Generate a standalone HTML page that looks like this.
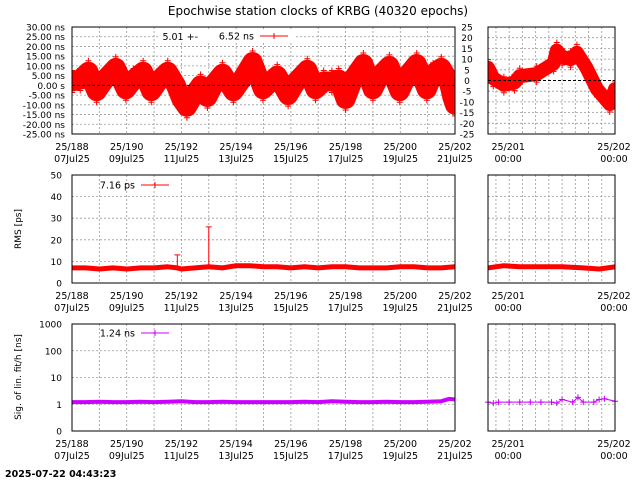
<!DOCTYPE html>
<html><head><meta charset="utf-8"><style>
body{margin:0;background:#fff;}
svg{display:block;font-family:"DejaVu Sans","Liberation Sans",sans-serif;}
</style></head><body>
<svg id="c" width="640" height="480" viewBox="0 0 640 480" xmlns="http://www.w3.org/2000/svg">
<rect width="640" height="480" fill="#fff"/>
<text x="318" y="15" font-size="12" text-anchor="middle">Epochwise station clocks of KRBG (40320 epochs)</text>
<text x="5" y="477" font-size="9.5" font-weight="bold">2025-07-22 04:43:23</text>
<text transform="translate(21,229) rotate(-90)" font-size="9" text-anchor="middle">RMS [ps]</text>
<text transform="translate(21,377) rotate(-90)" font-size="9" text-anchor="middle">Sig. of lin. fit/h [ns]</text>
</svg>
<script>
// ---- data ----
const clockDays=[188.0,188.3,188.6,188.9,189.2,189.6,189.97,190.25,190.6,190.9,191.2,191.5,191.8,192.0,192.2,192.45,192.7,192.95,193.2,193.5,193.9,194.25,194.6,194.98,195.2,195.5,195.9,196.2,196.6,196.9,197.2,197.5,197.75,198.0,198.3,198.65,199.0,199.25,199.6,199.98,200.25,200.6,200.97,201.2,201.5,201.75,201.9,202.0];
const clockVals=[2,3,7,-3,3,9,-2,3,7,-3,3,7,0,-7,-11,-5,0,-6,1,6,-3,4,12,-2,1,5,-5,2,8,-2,2,2,3,-7,4,11,-2,5,10,-3,5,11,-2,6,9,3,-6,-10];
const zoomDays=[200.8,200.85,200.95,201.05,201.1,201.26,201.42,201.45,201.5,201.58,201.64,201.73,201.83,201.95,202.0];
const zoomVals=[6,1,-2,-1,2,3,8,14,11,10,13,6,-4,-11,-4];
const rmsDays=[188,188.5,189,189.5,190,190.5,191,191.5,191.85,192,192.5,193,193.5,194,194.5,195,195.5,196,196.5,197,197.5,198,198.5,199,199.5,200,200.5,201,201.5,202];
const rmsVals=[7,7,6.5,7,6.5,7,7,7.5,7,6.5,7,7.5,7,8,8,7.5,7.5,7,7.5,7,7.5,7.5,7,7,7,7.5,7.5,7,7,7.5];
const rmsSpikeDays=[191.85,193.0];
const rmsSpikeVals=[13,26];
const rmsZoomDays=[200.8,200.95,201.1,201.3,201.5,201.7,201.85,202.0];
const rmsZoomVals=[7,8,7.5,7.5,7.5,7,6.5,7.5];
const sigDays=[188,188.5,189,189.5,190,190.5,191,191.5,192,192.5,193,193.5,194,194.5,195,195.5,196,196.5,197,197.5,198,198.5,199,199.5,200,200.5,201,201.5,201.8,202];
const sigVals=[1.2,1.2,1.25,1.2,1.2,1.25,1.2,1.25,1.3,1.2,1.2,1.25,1.2,1.2,1.2,1.2,1.2,1.25,1.2,1.3,1.25,1.2,1.2,1.25,1.2,1.2,1.25,1.3,1.6,1.5];
const sigZoomDays=[200.8,200.85,200.9,201.0,201.1,201.2,201.3,201.4,201.45,201.5,201.6,201.65,201.7,201.8,201.85,201.9,202.0];
const sigZoomVals=[1.2,1.1,1.2,1.2,1.2,1.2,1.2,1.2,1.1,1.5,1.2,1.8,1.2,1.2,1.5,1.6,1.3];
const clockTicks=[30,25,20,15,10,5,0,-5,-10,-15,-20,-25];
const zoomTicks=[25,20,15,10,5,0,-5,-10,-15,-20,-25];
const rmsTicks=[0,10,20,30,40,50];
const sigTicks=[0.1,1,10,100,1000];
const sigTickLabels=["0","1","10","100","1000"];
const dayTicks=[188,190,192,194,196,198,200,202];
const dateLabels=["07Jul25","09Jul25","11Jul25","13Jul25","15Jul25","17Jul25","19Jul25","21Jul25"];

const NS="http://www.w3.org/2000/svg";
const svg=document.getElementById('c');
function mk(tag,attrs,parent){const e=document.createElementNS(NS,tag);for(const k in attrs)e.setAttribute(k,attrs[k]);(parent||svg).appendChild(e);return e;}

const L={x0:72,x1:455,d0:188,d1:202};
const R={x0:488,x1:615,d0:200.8,d1:202.0};
const P1={y0:27,y1:134}, P2={y0:175,y1:283}, P3={y0:324,y1:431};
function xs(ax,d){return ax.x0+(d-ax.d0)/(ax.d1-ax.d0)*(ax.x1-ax.x0);}
function ylin(p,lo,hi,v){return p.y1-(v-lo)/(hi-lo)*(p.y1-p.y0);}
function ylog(p,v){return p.y1-(Math.log10(v)+1)/4*(p.y1-p.y0);}

function frame(ax,p,name){
  const g=mk('g',{});
  
  
  const cp=mk('clipPath',{id:'cp'+name},g);mk('rect',{x:ax.x0,y:p.y0,width:ax.x1-ax.x0,height:p.y1-p.y0},cp);
  if(ax===L){for(let d=189;d<202;d++){const l=mk('line',{x1:xs(ax,d),x2:xs(ax,d),y1:p.y0,y2:p.y1,stroke:'#999','stroke-dasharray':'2,2','stroke-width':0.8},g);}}
  else{for(let h=-3;h<24;h+=3){const d=201+h/24;if(d<=ax.d0)continue;const l=mk('line',{x1:xs(ax,d),x2:xs(ax,d),y1:p.y0,y2:p.y1,stroke:'#999','stroke-dasharray':'2,2','stroke-width':0.8},g);}}
  return g;
}
function hgrid(ax,y,p,g){const l=mk('line',{x1:ax.x0,x2:ax.x1,y1:y,y2:y,stroke:'#999','stroke-dasharray':'2,2','stroke-width':0.8},g);}
function border(ax,p,g){const r=mk('rect',{x:ax.x0,y:p.y0,width:ax.x1-ax.x0,height:p.y1-p.y0,fill:'none',stroke:'#000','stroke-width':1},g);}
function xlabels(ax,p){
  if(ax===L){dayTicks.forEach((d,i)=>{const x=xs(ax,d);
    const t=mk('text',{x:x,y:p.y1+16,'font-size':9.5,'text-anchor':'middle'});t.textContent='25/'+d;
    
    const t2=mk('text',{x:x,y:p.y1+28,'font-size':9.5,'text-anchor':'middle'});t2.textContent=dateLabels[i];
    });}
  else{[201,202].forEach(d=>{const x=xs(ax,d)-1;
    const t=mk('text',{x:x,y:p.y1+16,'font-size':9.5,'text-anchor':'middle'});t.textContent='25/'+d;
    
    const t2=mk('text',{x:x,y:p.y1+28,'font-size':9.5,'text-anchor':'middle'});t2.textContent='00:00';
    });}
}
function ylabel(x,y,txt,anchor){const t=mk('text',{x:x,y:y+3.5,'font-size':9,'text-anchor':anchor||'end'});t.textContent=txt;}
function thick(ax,days,vals,yf,color,width,name,g,clip,marks,spreadPx){
  let d='';days.forEach((dd,i)=>{d+=(i?'L':'M')+xs(ax,dd).toFixed(1)+','+yf(vals[i]).toFixed(1);});
  const p=mk('path',{d:d,fill:'none',stroke:color,'stroke-width':width,'stroke-linejoin':'round','stroke-linecap':'round','clip-path':'url(#'+clip+')'},g);
  
  if(marks)days.forEach((dd,i)=>{[-spreadPx,spreadPx].forEach(o=>{const x=xs(ax,dd),y=yf(vals[i])+o;
    if(y<ax.y0)return;
    const m=mk('path',{d:`M${x-3},${y}H${x+3}M${x},${y-3}V${y+3}`,stroke:color,'stroke-width':1,'clip-path':'url(#'+clip+')'},g);
    });});
}
function markers(ax,days,vals,yf,color,g){
  days.forEach((dd,i)=>{const x=xs(ax,dd),y=yf(vals[i]);
    const m=mk('path',{d:`M${x-3},${y}H${x+3}M${x},${y-3}V${y+3}`,stroke:color,'stroke-width':1},g);
    });
}
function legend(x,y,txt,color){
  const t=mk('text',{x:x,y:y+3.5,'font-size':9.5,'text-anchor':'end'});t.textContent=txt;
  
  const l=mk('path',{d:`M${x+6},${y}H${x+34}M${x+20},${y-3}V${y+3}`,stroke:color,'stroke-width':1});
  
}

// ---- Panel 1 left ----
{const ax=L,p=P1,yf=v=>ylin(p,-25,30,v);const g=frame(ax,p,'clock-panel');
 clockTicks.forEach(v=>{if(v!==0)hgrid(ax,yf(v),p,g);ylabel(65,yf(v),v===0?'0.00  s':v.toFixed(2)+' ns');});
 const wh=mk('rect',{x:160,y:31,width:135,height:11,fill:'#fff'},g);
 thick(ax,clockDays,clockVals,yf,'#ff0000',20,'clock-series',g,'cpclock-panel',true,11);
 const z=mk('line',{x1:ax.x0,x2:ax.x1,y1:yf(0),y2:yf(0),stroke:'#000','stroke-dasharray':'3,2','stroke-width':1},g);
 border(ax,p,g);xlabels(ax,p);
 const t=mk('text',{x:198,y:40,'font-size':9.5,'text-anchor':'end'});t.textContent='5.01 +-';
 legend(254,36,'6.52 ns','#ff0000');}
// ---- Panel 1 right ----
{const ax=R,p=P1,yf=v=>ylin(p,-25,25,v);const g=frame(ax,p,'clock-zoom-panel');
 zoomTicks.forEach(v=>{if(v!==0)hgrid(ax,yf(v),p,g);ylabel(467,yf(v),String(v),'middle');});
 thick(ax,zoomDays,zoomVals,yf,'#ff0000',14,'clock-zoom-series',g,'cpclock-zoom-panel',true,8);
 const z=mk('line',{x1:ax.x0,x2:ax.x1,y1:yf(0),y2:yf(0),stroke:'#000','stroke-dasharray':'3,2','stroke-width':1},g);
 border(ax,p,g);xlabels(ax,p);}
// ---- Panel 2 ----
[L,R].forEach(ax=>{const p=P2,yf=v=>ylin(p,0,50,v);const nm=ax===L?'rms-panel':'rms-zoom-panel';const g=frame(ax,p,nm);
 rmsTicks.forEach(v=>{if(v>0&&v<50)hgrid(ax,yf(v),p,g);if(ax===L)ylabel(62,yf(v),String(v));});
 if(ax===L){thick(ax,rmsDays,rmsVals,yf,'#ff0000',5,'rms-series',g,'cp'+nm,false,0);
   rmsSpikeDays.forEach((d,i)=>{const x=xs(ax,d);const s=mk('path',{d:`M${x},${yf(8)}V${yf(rmsSpikeVals[i])}M${x-3},${yf(rmsSpikeVals[i])}H${x+3}`,stroke:'#ff0000','stroke-width':1},g);});
   legend(135,185,'7.16 ps','#ff0000');}
 else thick(ax,rmsZoomDays,rmsZoomVals,yf,'#ff0000',5,'rms-zoom-series',g,'cp'+nm,false,0);
 border(ax,p,g);xlabels(ax,p);});
// ---- Panel 3 ----
[L,R].forEach(ax=>{const p=P3,yf=v=>ylog(p,v);const nm=ax===L?'sigma-panel':'sigma-zoom-panel';const g=frame(ax,p,nm);
 sigTicks.forEach((v,i)=>{if(v>0.1&&v<1000)hgrid(ax,yf(v),p,g);if(ax===L)ylabel(62,yf(v),sigTickLabels[i]);});
 if(ax===L){thick(ax,sigDays,sigVals,yf,'#cc00ff',4,'sigma-series',g,'cp'+nm,false,0);legend(135,333,'1.24 ns','#cc00ff');}
 else{thick(ax,sigZoomDays,sigZoomVals,yf,'#cc00ff',1,'sigma-zoom-series',g,'cp'+nm,false,0);markers(ax,sigZoomDays,sigZoomVals,yf,'#cc00ff',g);}
 border(ax,p,g);xlabels(ax,p);});
</script>
</body></html>
